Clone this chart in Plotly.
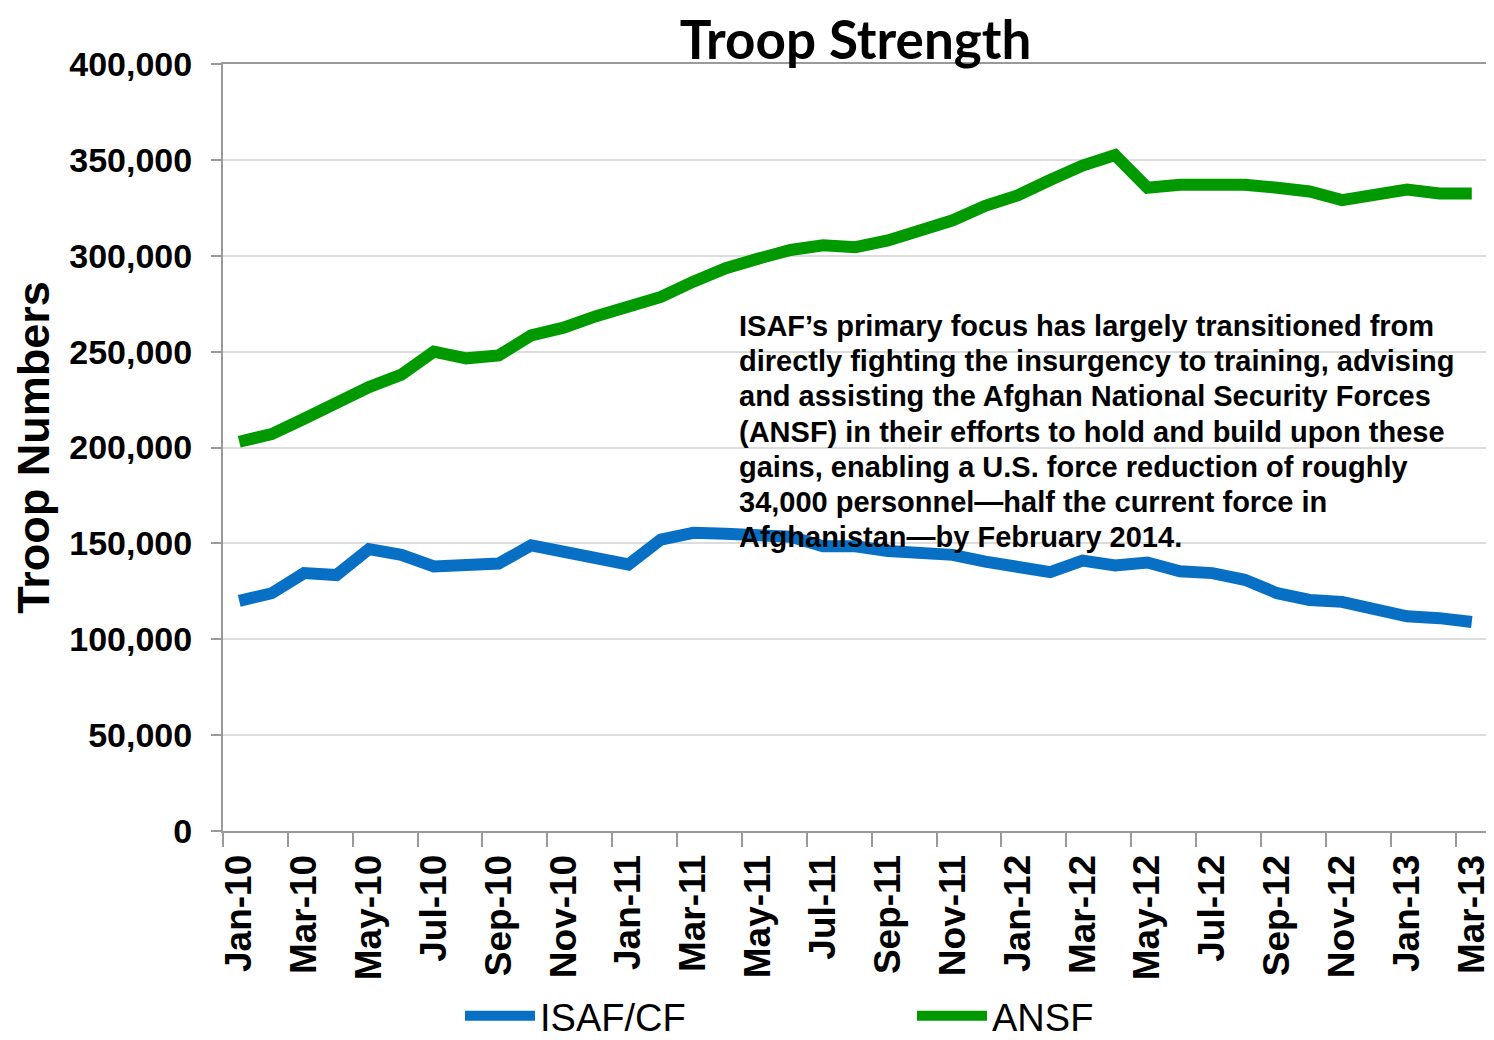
import plotly.graph_objects as go

# monthly categories, Jan-10 .. Mar-13
months = [
    "Jan-10", "Feb-10", "Mar-10", "Apr-10", "May-10", "Jun-10", "Jul-10", "Aug-10", "Sep-10", "Oct-10", "Nov-10", "Dec-10",
    "Jan-11", "Feb-11", "Mar-11", "Apr-11", "May-11", "Jun-11", "Jul-11", "Aug-11", "Sep-11", "Oct-11", "Nov-11", "Dec-11",
    "Jan-12", "Feb-12", "Mar-12", "Apr-12", "May-12", "Jun-12", "Jul-12", "Aug-12", "Sep-12", "Oct-12", "Nov-12", "Dec-12",
    "Jan-13", "Feb-13", "Mar-13",
]

isaf_cf = [
    120000, 124000, 134500, 133500, 147000, 144000, 138000, 138500, 139500, 149000, 146000, 142000,
    139000, 152000, 155500, 155000, 154500, 153500, 148500, 148500, 146000, 145000, 144000, 140500,
    137500, 135000, 141000, 138500, 140000, 135500, 134500, 131000, 124000, 120500, 119500, 116000,
    112000, 111000, 109000,
]

ansf = [
    203000, 207000, 215000, 224000, 231500, 238000, 250000, 246500, 248000, 258500, 262500, 268500,
    274000, 278500, 286500, 293500, 298500, 303000, 305500, 304500, 308000, 313500, 318500, 326000,
    331500, 339500, 347000, 352500, 335500, 337000, 337500, 337000, 335500, 333500, 329000, 331000,
    334500, 332500, 332500,
]

note_lines = [
    "ISAF’s primary focus has largely transitioned from",
    "directly fighting the insurgency to training, advising",
    "and assisting the Afghan National Security Forces",
    "(ANSF) in their efforts to hold and build upon these",
    "gains, enabling a U.S. force reduction of roughly",
    "34,000 personnel—half the current force in",
    "Afghanistan—by February 2014.",
]

ARIAL = "Liberation Sans, Arial, sans-serif"

# the page puts the figure 8px in from the top-left corner
W, H = 1486, 1032
PLOT_L, PLOT_R, PLOT_T, PLOT_B = 223, 1488, 64, 831   # target window pixels
PW, PH = PLOT_R - PLOT_L, PLOT_B - PLOT_T

fig = go.Figure()
fig.add_trace(go.Scatter(x=months, y=isaf_cf, name="ISAF/CF", mode="lines",
                         line=dict(color="#0870C4", width=12)))
fig.add_trace(go.Scatter(x=months, y=ansf, name="ANSF", mode="lines",
                         line=dict(color="#009A00", width=12)))

# explanatory text, one annotation per line to match the line spacing
for i, txt in enumerate(note_lines):
    fig.add_annotation(
        text=f"<b>{txt}</b>", xref="paper", yref="paper",
        x=(737 - PLOT_L) / PW, y=(PLOT_B - (326 + i * 35.2)) / PH,
        xanchor="left", yanchor="middle", showarrow=False,
        font=dict(family=ARIAL, size=29, color="black"),
    )

fig.update_layout(
    width=W, height=H,
    margin=dict(l=PLOT_L - 8, r=1494 - PLOT_R, t=PLOT_T - 8, b=1040 - PLOT_B, autoexpand=False),
    paper_bgcolor="white", plot_bgcolor="white",
    title=dict(text="<b>Troop Strength</b>", x=0.5, xanchor="center", xref="paper",
               y=1 - (40 - 8) / H, yanchor="middle", yref="container",
               font=dict(family="Lato, Open Sans, sans-serif", size=53, color="black")),
    legend=dict(orientation="h", x=(460 - PLOT_L) / PW, xanchor="left",
                y=(PLOT_B - 1016) / PH, yanchor="middle",
                entrywidth=367, entrywidthmode="pixels", itemwidth=70,
                font=dict(family=ARIAL, size=38, color="black")),
    showlegend=True,
)

fig.update_xaxes(
    type="category", range=[-0.5, len(months) - 0.5], automargin=False,
    dtick=2, tick0=0, tickangle=-90, tickson="boundaries",
    ticks="outside", ticklen=14, tickcolor="#9a9a9a", tickwidth=2,
    showline=True, linecolor="#9a9a9a", linewidth=2, mirror=True,
    showgrid=False, ticklabelstandoff=7,
    tickfont=dict(family=ARIAL, size=37, color="black", weight="bold"),
)
fig.update_yaxes(
    range=[0, 400000], dtick=50000, tickformat=",d", automargin=False,
    ticks="outside", ticklen=10, tickcolor="#9a9a9a", tickwidth=2,
    showline=True, linecolor="#9a9a9a", linewidth=2, mirror=True,
    showgrid=True, gridcolor="#dcdcdc", gridwidth=2, zeroline=False,
    ticklabelstandoff=12,
    tickfont=dict(family=ARIAL, size=34, color="black", weight="bold"),
    title=dict(text="<b>Troop Numbers</b>", standoff=14,
               font=dict(family=ARIAL, size=45, color="black")),
)

fig.write_html("out.html")
